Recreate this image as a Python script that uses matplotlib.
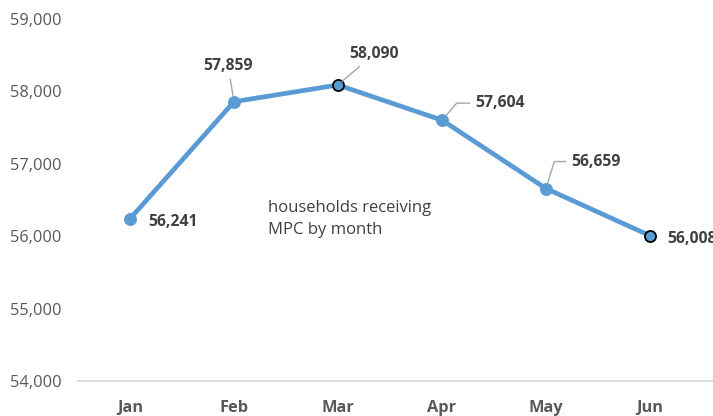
import matplotlib.pyplot as plt

plt.rcParams['font.family'] = ['Open Sans', 'DejaVu Sans']

months = ['Jan', 'Feb', 'Mar', 'Apr', 'May', 'Jun']
households = [56241, 57859, 58090, 57604, 56659, 56008]
y_ticks = [54000, 55000, 56000, 57000, 58000, 59000]

line_col = '#5B9BD5'
txt_col = '#404040'
lead_col = '#A6A6A6'

fig = plt.figure(figsize=(7.13, 4.16), dpi=100)
ax = fig.add_axes([0.1094, 0.0841, 0.8906, 0.870])

x = list(range(len(months)))
ax.plot(x, households, color=line_col, lw=3.4, solid_capstyle='round', zorder=2)
edges = [line_col, line_col, 'black', line_col, line_col, 'black']
for xi, yi, ec in zip(x, households, edges):
    ax.plot(xi, yi, 'o', ms=8, mfc=line_col, mec=ec, mew=1.3, zorder=3)

# label offsets in pixels and leader style for each point
offsets = [(18, -3), (-6, 36), (36, 31), (58, 17), (50, 27), (17, -3)]
aligns = ['left', 'center', 'center', 'center', 'center', 'left']
leaders = [None, 'arc3', 'arc3', 'angle,angleA=0,angleB=49,rad=0',
           'angle,angleA=0,angleB=73,rad=0', None]

for xi, yi, off, ha, conn in zip(x, households, offsets, aligns, leaders):
    props = None
    if conn:
        props = dict(arrowstyle='-', color=lead_col, lw=1.0, shrinkA=2, shrinkB=4,
                     connectionstyle=conn)
    ax.annotate(f'{yi:,}', xy=(xi, yi), xytext=off, textcoords='offset pixels',
                ha=ha, va='center', fontsize=11.3, fontweight='bold', color=txt_col,
                arrowprops=props, annotation_clip=False)

ax.text(1.33, 56000 + 240, 'households receiving\nMPC by month', fontsize=12,
        color=txt_col, ha='left', va='center', linespacing=1.5)

ax.set_xlim(-0.5, 5.606)
ax.set_ylim(54000, 59000)
ax.set_yticks(y_ticks)
ax.set_yticklabels([f'{v:,}' for v in y_ticks])
ax.set_xticks(x)
ax.set_xticklabels(months, fontweight='bold')

for s in ['top', 'right', 'left']:
    ax.spines[s].set_visible(False)
ax.spines['bottom'].set_color('#D9D9D9')
ax.spines['bottom'].set_linewidth(1.3)
ax.tick_params(axis='y', length=0, pad=12, labelsize=11.8, labelcolor='#595959')
ax.tick_params(axis='x', length=0, pad=14, labelsize=11.8, labelcolor='#595959')

fig.savefig('out.png', dpi=100)
